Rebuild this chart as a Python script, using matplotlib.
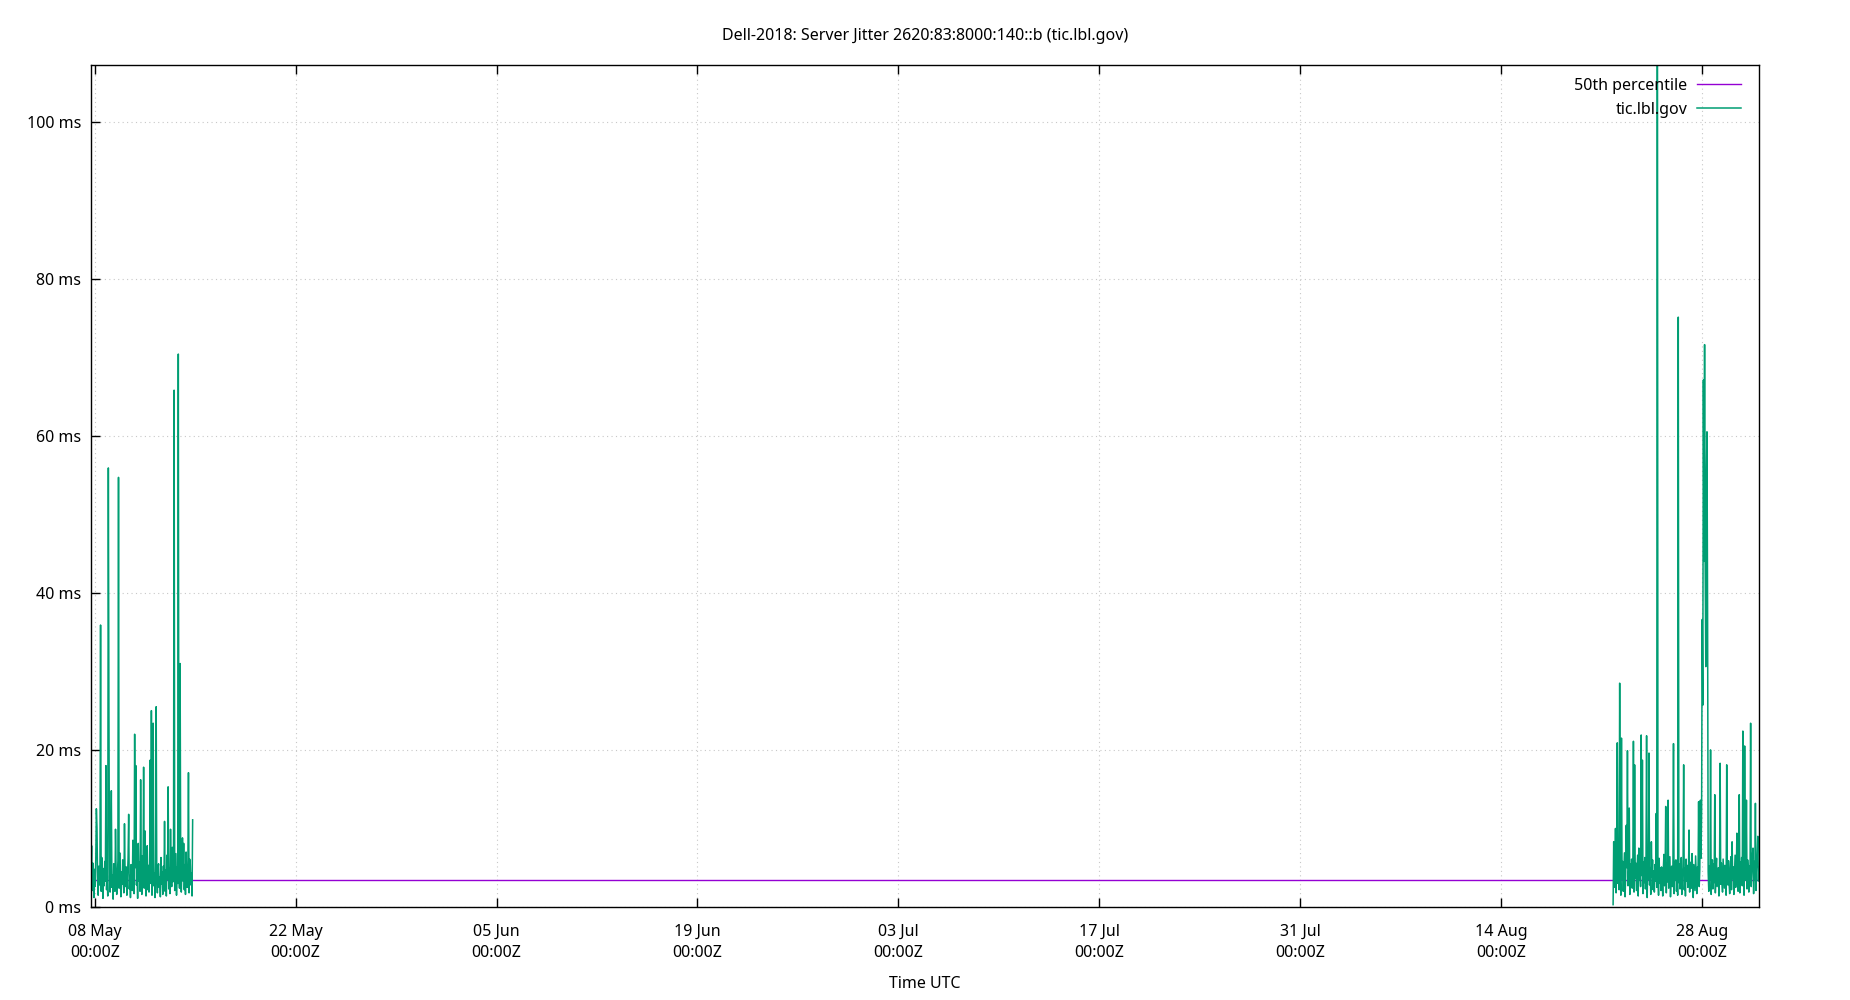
import matplotlib
matplotlib.use("Agg")
import matplotlib.pyplot as plt
import matplotlib.dates as mdates
from matplotlib.ticker import FuncFormatter
import numpy as np
import pandas as pd

plt.rcParams["font.family"] = ["Noto Sans", "DejaVu Sans"]

TITLE = "Dell-2018: Server Jitter 2620:83:8000:140::b (tic.lbl.gov)"
SERVER = "tic.lbl.gov"

# jitter readings, ms, one per hour
first_start = "2018-05-07 17:45"
first_ms = [
    4.2, 7.8, 2.1, 5.6, 3.0, 1.2, 4.8, 2.6, 6.1, 12.5,
    10.2, 3.4, 1.5, 5.2, 2.8, 4.4, 35.9, 2.0, 6.3, 3.1,
    1.1, 4.9, 2.7, 5.8, 3.3, 18.0, 2.2, 4.6, 1.4, 55.9,
    24.3, 3.8, 1.9, 6.4, 14.8, 2.5, 4.1, 1.0, 5.5, 3.2,
    2.0, 9.9, 4.7, 1.6, 3.9, 5.9, 54.7, 2.4, 6.9, 3.6,
    1.3, 4.5, 2.9, 6.0, 3.1, 1.8, 10.6, 4.3, 2.6, 5.1,
    1.5, 3.7, 6.2, 11.8, 2.3, 4.0, 1.2, 5.4, 3.5, 2.1,
    8.5, 4.6, 1.7, 22.0, 5.0, 18.0, 2.8, 4.4, 1.1, 8.1,
    3.3, 5.7, 2.0, 16.2, 4.2, 1.6, 6.5, 3.0, 17.8, 2.4,
    9.7, 4.8, 1.4, 3.6, 7.8, 2.2, 5.3, 1.9, 4.1, 18.7,
    3.0, 25.0, 1.5, 5.6, 23.4, 2.7, 4.3, 1.2, 6.0, 25.5,
    3.4, 1.8, 4.9, 5.5, 2.5, 3.8, 1.3, 6.3, 2.9, 4.5,
    1.6, 5.2, 3.1, 10.9, 2.0, 4.7, 1.4, 6.6, 3.5, 15.3,
    2.3, 5.0, 1.7, 9.9, 4.0, 2.6, 7.6, 3.2, 5.8, 65.8,
    2.1, 4.4, 6.8, 1.5, 5.1, 3.0, 70.4, 4.6, 2.4, 31.0,
    6.2, 1.9, 4.8, 8.8, 3.3, 8.1, 2.2, 5.4, 1.6, 7.0,
    3.7, 2.5, 4.9, 17.1, 1.8, 6.1, 5.5, 2.8, 4.3, 1.4,
    11.1,
]
second_start = "2018-08-21 19:15"
second_ms = [
    0.3, 8.3, 2.5, 4.6, 10.0, 1.8, 5.2, 20.9, 3.0, 6.4,
    2.2, 28.5, 4.1, 1.5, 21.5, 3.6, 5.8, 2.0, 4.4, 6.9,
    1.3, 3.9, 10.4, 5.0, 19.9, 2.7, 4.8, 12.6, 1.6, 5.5,
    3.2, 6.1, 2.4, 4.5, 21.1, 1.9, 18.1, 3.7, 5.6, 2.1,
    4.2, 6.6, 1.4, 7.5, 3.4, 5.1, 2.6, 21.9, 4.0, 18.7,
    1.7, 5.7, 3.1, 6.3, 2.3, 4.7, 21.8, 1.2, 5.3, 3.5,
    19.6, 2.8, 4.9, 1.6, 8.3, 3.8, 6.0, 2.2, 4.6, 1.9,
    5.4, 3.3, 11.9, 2.5, 140.0, 4.3, 1.5, 6.2, 3.0, 5.0,
    2.1, 5.1, 3.6, 1.4, 4.8, 6.7, 2.7, 4.1, 12.8, 1.8,
    5.6, 3.2, 13.6, 2.4, 4.5, 6.4, 1.3, 3.9, 5.2, 2.6,
    4.0, 20.8, 1.7, 5.8, 3.4, 6.0, 2.0, 4.4, 1.5, 75.1,
    3.1, 5.5, 2.3, 4.7, 6.3, 1.6, 3.8, 5.0, 18.1, 2.2,
    4.9, 1.4, 6.1, 3.3, 5.3, 2.5, 4.2, 9.8, 1.9, 5.7,
    3.0, 2.4, 6.8, 4.6, 1.2, 5.4, 3.6, 2.1, 6.5, 4.0,
    1.7, 5.1, 3.2, 13.4, 2.6, 4.8, 13.6, 6.2, 12.0, 36.6,
    25.7, 67.1, 44.0, 71.6, 43.4, 30.6, 55.0, 60.5, 38.0, 4.5,
    2.0, 5.2, 3.5, 20.0, 1.6, 4.3, 6.0, 2.3, 5.5, 3.1,
    14.3, 1.8, 4.7, 6.2, 2.6, 3.9, 5.0, 1.4, 4.4, 18.3,
    2.9, 5.6, 3.3, 1.9, 6.1, 4.2, 2.4, 5.3, 3.7, 1.5,
    18.1, 4.6, 2.8, 5.9, 3.0, 1.7, 4.9, 6.4, 2.2, 8.3,
    3.6, 5.1, 1.6, 4.3, 6.6, 2.5, 3.8, 9.4, 5.0, 2.0,
    4.5, 14.3, 1.8, 5.7, 3.2, 6.3, 2.7, 22.4, 4.1, 1.5,
    20.5, 5.4, 3.4, 13.6, 2.3, 6.0, 4.8, 1.9, 5.2, 3.0,
    23.4, 2.6, 4.4, 6.5, 7.5, 1.7, 5.8, 3.5, 13.2, 2.1,
    4.9, 6.2, 9.0, 3.3, 5.1,
]
p50_ms = 3.5

x_ticks = pd.date_range("2018-05-08", periods=9, freq="14D")
y_ticks = [0, 20, 40, 60, 80, 100]
y_top = 107.2

t1 = pd.date_range(first_start, periods=len(first_ms), freq="h")
t2 = pd.date_range(second_start, periods=len(second_ms), freq="h")
# NaN in between so the two runs are not joined
times = list(t1) + [t1[-1] + pd.Timedelta(hours=1)] + list(t2)
jitter = list(first_ms) + [np.nan] + list(second_ms)

FS = 11.5

fig = plt.figure(figsize=(18.5, 10), dpi=100)
ax = fig.add_axes([91 / 1850, 93 / 1000, 1668 / 1850, 842 / 1000])

ax.plot([times[0], times[-1]], [p50_ms, p50_ms], color="#9400d3", lw=1.0,
        label="50th percentile")
ax.plot(times, jitter, color="#009e73", lw=1.1, label=SERVER)

ax.set_xlim(times[0], times[-1])
ax.set_ylim(0, y_top)
ax.set_xticks(x_ticks)
ax.xaxis.set_major_formatter(mdates.DateFormatter("%d %b\n%H:%MZ"))
ax.set_yticks(y_ticks)
ax.yaxis.set_major_formatter(FuncFormatter(lambda v, p: f"{v:g} ms"))

ax.grid(True, color="#c8c8c8", linestyle=(0, (1, 3)), lw=0.8)
ax.tick_params(direction="in", length=6.5, width=1.0, top=True, right=False,
               labelsize=FS, colors="black")
ax.tick_params(axis="x", pad=12)
ax.tick_params(axis="y", pad=7)
for lbl in ax.get_xticklabels():
    lbl.set_linespacing(1.48)
for s in ax.spines.values():
    s.set_linewidth(1.0)

ax.set_title(TITLE, fontsize=FS, pad=18)
ax.set_xlabel("Time UTC", fontsize=FS, labelpad=10.5)

ax.legend(loc="upper right", bbox_to_anchor=(1 - 18 / 1668, 1 - 13 / 842),
          frameon=False, markerfirst=False, fontsize=FS, borderpad=0,
          borderaxespad=0, handlelength=2.75, handletextpad=0.6,
          labelspacing=0.5)

fig.savefig("out.png", dpi=100)
plt.close(fig)
